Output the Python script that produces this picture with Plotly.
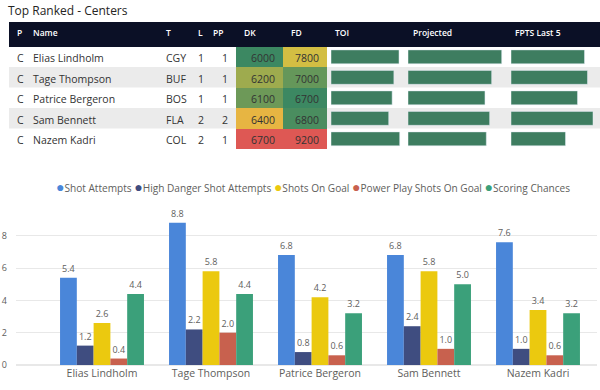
import plotly.graph_objects as go
from plotly.colors import find_intermediate_color

W, H = 600, 390

# ---------------- data ----------------
players = ["Elias Lindholm", "Tage Thompson", "Patrice Bergeron", "Sam Bennett", "Nazem Kadri"]
positions = ["C", "C", "C", "C", "C"]
teams = ["CGY", "BUF", "BOS", "FLA", "COL"]
line_no = [1, 1, 1, 2, 2]
pp_unit = [1, 1, 1, 2, 1]
dk_salary = [6000, 6200, 6100, 6400, 6700]
fd_salary = [7800, 7000, 6700, 6800, 9200]
toi = [19.8, 18.3, 17.8, 16.8, 20.0]
projected = [14.0, 12.5, 11.5, 12.2, 11.7]
fpts_last5 = [14.7, 15.3, 13.3, 16.4, 10.9]

table_headers = ["P", "Name", "T", "L", "PP", "DK", "FD", "TOI", "Projected", "FPTS Last 5"]

series_names = ["Shot Attempts", "High Danger Shot Attempts", "Shots On Goal",
                "Power Play Shots On Goal", "Scoring Chances"]
shot_attempts = [5.4, 8.8, 6.8, 6.8, 7.6]
hd_shot_attempts = [1.2, 2.2, 0.8, 2.4, 1.0]
shots_on_goal = [2.6, 5.8, 4.2, 5.8, 3.4]
pp_shots_on_goal = [0.4, 2.0, 0.6, 1.0, 0.6]
scoring_chances = [4.4, 4.4, 3.2, 5.0, 3.2]
y_ticks = [0, 2, 4, 6, 8]

# ---------------- styles ----------------
FONT = "Segoe UI, Open Sans, sans-serif"
NAVY = "#0b1026"
BAND = "#ebebeb"
DATABAR = "#3e7d60"
TXT = "#252423"
AX = "#605e5c"
series_colors = ["#4a86d9", "#3f4d80", "#ebc90f", "#c8614e", "#3ba07a"]
GREEN = (60, 136, 98)
YELLOW = (232, 197, 63)
RED = (222, 88, 84)


def clamp(v):
    return max(0.0, min(1.0, v))


def px_x(p):
    return clamp(p / W)


def px_y(p):
    return clamp(1 - p / H)


def salary_color(v, vals):
    lo, hi = min(vals), max(vals)
    mid = (lo + hi) / 2
    if v <= mid:
        c = find_intermediate_color(GREEN, YELLOW, (v - lo) / (mid - lo))
    else:
        c = find_intermediate_color(YELLOW, RED, (v - mid) / (hi - mid))
    return "rgb(%d,%d,%d)" % tuple(round(x) for x in c)


CLEAR = "rgba(0,0,0,0)"
n = len(players)
fills = [[CLEAR] * n for _ in range(5)]
fills.append([salary_color(v, dk_salary) for v in dk_salary])
fills.append([salary_color(v, fd_salary) for v in fd_salary])
fills += [[CLEAR] * n for _ in range(3)]

blank = [""] * n

fig = go.Figure()

# table geometry (pixels)
T_TOP, HDR_H, ROW_H = 22.0, 24.6, 20.5
ROWS_TOP = T_TOP + HDR_H
ROWS_BOT = ROWS_TOP + ROW_H * n
T_LEFT, T_RIGHT = 9, 600

fig.add_trace(go.Table(
    domain=dict(x=[px_x(T_LEFT), px_x(T_RIGHT)], y=[px_y(ROWS_BOT + 0.6), px_y(T_TOP)]),
    columnwidth=[16, 133, 32, 15, 31, 47, 44, 78, 102, 93],
    header=dict(values=table_headers, fill_color=NAVY, align="left", height=HDR_H,
                line=dict(width=0, color=NAVY),
                font=dict(family=FONT, size=8.5, color="white", weight=600)),
    cells=dict(values=[positions, players, teams, line_no, pp_unit, dk_salary, fd_salary,
                       blank, blank, blank],
               fill_color=fills, height=ROW_H,
               align=["left", "left", "left", "left", "right", "right", "right",
                      "left", "left", "left"],
               line=dict(width=0, color=CLEAR),
               font=dict(family=FONT, size=10.5, color="#333333")),
))

# data bars inside the table
bar_cols = [(toi, 331, 404, 68.7 / 73), (projected, 408, 506, 93.7 / 98), (fpts_last5, 511, 598, 82 / 87)]
for i, (vals, x0, x1, frac) in enumerate(bar_cols):
    ax = i + 2
    fig.add_trace(go.Bar(x=vals, y=players, orientation="h", marker_color=DATABAR,
                         width=0.68, xaxis="x%d" % ax, yaxis="y%d" % ax,
                         showlegend=False, hoverinfo="x+y"))
    fig.update_layout(**{
        "xaxis%d" % ax: dict(domain=[px_x(x0), px_x(x1)], range=[0, max(vals) / frac],
                             visible=False, fixedrange=True, automargin=False),
        "yaxis%d" % ax: dict(domain=[px_y(ROWS_BOT), px_y(ROWS_TOP)], range=[n - 0.5, -0.5],
                             type="category", categoryorder="array", categoryarray=players,
                             visible=False, anchor="x%d" % ax, automargin=False),
    })

# row banding
shapes = []
for r in (1, 3):
    shapes.append(dict(type="rect", xref="paper", yref="y2", x0=px_x(T_LEFT), x1=px_x(T_RIGHT),
                       y0=r - 0.5, y1=r + 0.5, fillcolor=BAND, line=dict(width=0),
                       layer="below"))

# main clustered column chart
series_values = [shot_attempts, hd_shot_attempts, shots_on_goal, pp_shots_on_goal, scoring_chances]
for name, vals, col in zip(series_names, series_values, series_colors):
    fig.add_trace(go.Bar(name=name, x=players, y=vals, marker_color=col, marker_line_width=0,
                         texttemplate="%{y:.1f}", textposition="outside",
                         textfont=dict(family=FONT, size=9, color=AX),
                         constraintext="none", cliponaxis=False, showlegend=False))

PLOT_L, PLOT_R, PLOT_T, PLOT_B = 16, 597, 200, 365
unit_px = 16.16
spacing = 109
first_center = 102
x_lo = -(first_center - PLOT_L) / spacing
x_hi = x_lo + (PLOT_R - PLOT_L) / spacing

fig.update_layout(
    xaxis=dict(domain=[px_x(PLOT_L), px_x(PLOT_R)], range=[x_lo, x_hi], type="category",
               showgrid=False, showline=False, zeroline=False, ticks="", automargin=False,
               tickfont=dict(family=FONT, size=10.5, color=AX), anchor="y"),
    yaxis=dict(domain=[px_y(PLOT_B), px_y(PLOT_T)], range=[0, (PLOT_B - PLOT_T) / unit_px],
               tickvals=y_ticks, showgrid=True, gridcolor="#e8e8e8", gridwidth=1,
               zeroline=True, zerolinecolor="#e8e8e8", showline=False, ticks="",
               ticklabelstandoff=8, automargin=False,
               tickfont=dict(family=FONT, size=9, color=AX), anchor="x"),
    barmode="group", bargap=0.23, bargroupgap=0,
)

# legend drawn as text
legend_parts = []
for name, col in zip(series_names, series_colors):
    legend_parts.append('<span style="color:%s;font-size:14px">●</span>%s' % (col, name))
legend_text = " ".join(legend_parts)

annotations = [
    dict(text=legend_text, xref="paper", yref="paper", x=px_x(313), y=px_y(186),
         xanchor="center", yanchor="middle", showarrow=False,
         font=dict(family=FONT, size=10.1, color=AX)),
]

fig.update_layout(
    width=W, height=H, margin=dict(l=0, r=0, t=0, b=0, pad=0, autoexpand=False),
    autosize=False,
    paper_bgcolor="white", plot_bgcolor="white",
    title=dict(text="Top Ranked - Centers", x=px_x(8), xanchor="left", y=px_y(10.5),
               yref="container", yanchor="middle", automargin=False,
               font=dict(family=FONT, size=12, color=TXT)),
    shapes=shapes, annotations=annotations, showlegend=False,
    font=dict(family=FONT),
)

# make the 600x390 figure fill the window exactly (no page margin, no overflow)
page_js = (
    "var de=document.documentElement,b=document.body;"
    "de.style.margin='0';b.style.margin='0';"
    "de.style.overflow='hidden';b.style.overflow='hidden';"
    "de.style.height='390px';b.style.height='390px';"
    "var gd=document.getElementById('{plot_id}');"
    "gd.style.overflow='hidden';gd.style.lineHeight='0';"
    "if(gd.parentNode){gd.parentNode.style.height='390px';gd.parentNode.style.overflow='hidden';}"
)
fig.write_html("out.html", post_script=page_js,
               config={"displayModeBar": False, "staticPlot": True})
